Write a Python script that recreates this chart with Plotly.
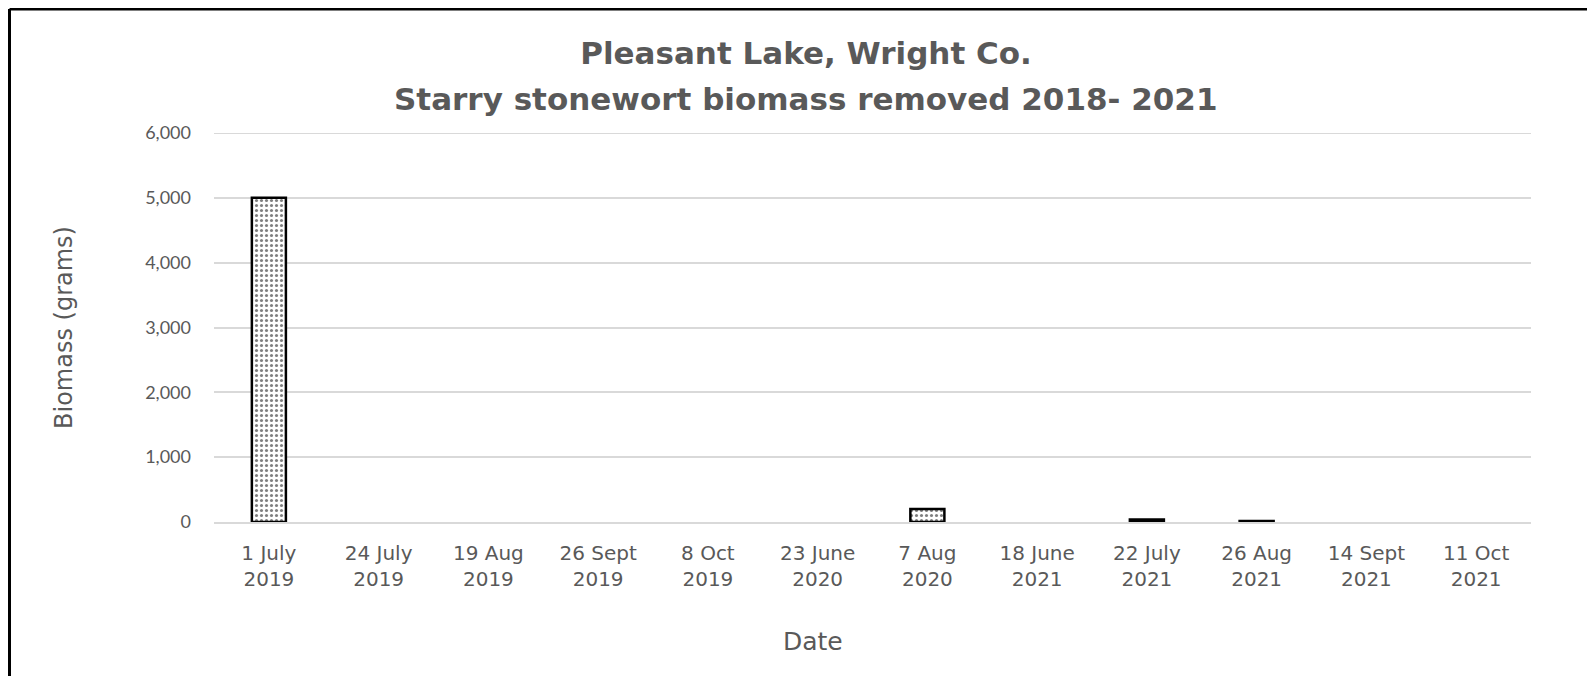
import plotly.graph_objects as go

dates = ["1 July<br>2019", "24 July<br>2019", "19 Aug<br>2019", "26 Sept<br>2019", "8 Oct<br>2019",
         "23 June<br>2020", "7 Aug<br>2020", "18 June<br>2021", "22 July<br>2021", "26 Aug<br>2021",
         "14 Sept<br>2021", "11 Oct<br>2021"]
biomass = [5000, 0, 0, 0, 0, 0, 200, 0, 40, 15, 0, 0]
title_lines = ["Pleasant Lake, Wright Co.", "Starry stonewort biomass removed 2018- 2021"]
x_title = "Date"
y_title = "Biomass (grams)"
y_max = 6000

# page has an 8px body margin; figure is sized to fill the rest of the window
W, H = 1587, 668
L, R, T, B = 206, 64, 125, 154
pw, ph = W - L - R, H - T - B

GREY = "#595959"
WIDE = "DejaVu Sans"
CX = 798  # horizontal centre of chart texts (figure px)

line_w = [2.5 if v > 0 else 0 for v in biomass]

fig = go.Figure()
fig.add_trace(go.Bar(
    x=dates, y=biomass,
    marker=dict(color="white", line=dict(color="black", width=line_w),
                pattern=dict(shape=".", fgcolor="black", bgcolor="white", size=5, solidity=0.3)),
    width=0.31,
))

fig.update_layout(
    width=W, height=H,
    margin=dict(l=L, r=R, t=T, b=B, autoexpand=False),
    paper_bgcolor="white", plot_bgcolor="white",
    font=dict(family=WIDE, color=GREY, size=19),
    showlegend=False,
    title=dict(text="<b>" + title_lines[0] + "</b>", x=CX / W, xanchor="center", xref="container",
               y=1 - 45 / H, yanchor="middle", yref="container",
               font=dict(family=WIDE, size=31, color=GREY)),
    xaxis=dict(showgrid=False, showline=True, linecolor="#d9d9d9", linewidth=1.5,
               ticks="", ticklabelstandoff=12, tickfont=dict(family=WIDE, size=20, color=GREY),
               automargin=False),
    yaxis=dict(range=[0, y_max], dtick=1000, tickformat=",", showgrid=True, gridcolor="#d9d9d9",
               gridwidth=1.5, zeroline=False, showline=False, ticks="",
               ticklabelstandoff=22, tickfont=dict(family="Lato", size=18, color=GREY),
               title=dict(text=y_title, font=dict(family=WIDE, size=24, color=GREY), standoff=65),
               automargin=False),
)

# top gridline at the range limit
fig.add_shape(type="line", xref="paper", yref="y", x0=0, x1=1, y0=y_max, y1=y_max,
              line=dict(color="#d9d9d9", width=2), layer="below")

fig.add_annotation(text="<b>" + title_lines[1] + "</b>", xref="paper", yref="paper",
                   x=(CX - L) / pw, y=1 + (T - 91) / ph, xanchor="center", yanchor="middle",
                   showarrow=False, font=dict(family=WIDE, size=31, color=GREY))

fig.add_annotation(text=x_title, xref="paper", yref="paper",
                   x=(CX + 7 - L) / pw, y=-(633 - (T + ph)) / ph, xanchor="center", yanchor="middle",
                   showarrow=False, font=dict(family=WIDE, size=25, color=GREY))

# chart border (left and top edges visible in the crop)
bx = (1.5 - L) / pw
by = 1 + (T - 1) / ph
fig.add_shape(type="line", xref="paper", yref="paper", x0=bx, x1=bx, y0=-(B + 5) / ph, y1=by,
              line=dict(color="black", width=3))
fig.add_shape(type="line", xref="paper", yref="paper", x0=bx, x1=(W + 5 - L) / pw, y0=by, y1=by,
              line=dict(color="black", width=3))

fig.write_html("out.html")
